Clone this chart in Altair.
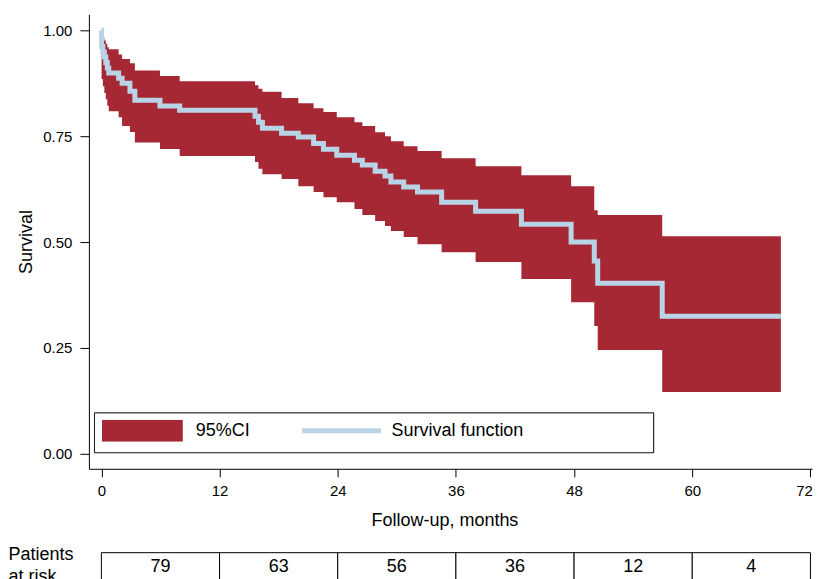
import altair as alt
import pandas as pd

# ---- data ----
time = [0, 0.02, 0.15, 0.3, 0.45, 0.6, 0.75, 1.75, 2.1, 2.9, 3.4, 5.95, 7.95,
        15.6, 15.95, 16.35, 18.3, 20.0, 21.55, 22.55, 23.9, 25.7, 26.5, 27.8,
        28.8, 29.4, 30.7, 32.1, 34.55, 38.0, 42.65, 47.7, 50.05, 50.4, 56.95, 69.0]
surv = [1, .962, .949, .937, .924, .911, .899, .887, .875, .856, .835, .821, .811,
        .797, .783, .769, .757, .748, .733, .719, .705, .693, .682, .667,
        .656, .642, .630, .618, .594, .573, .542, .500, .455, .403, .325, .325]
lower = [1, .885, .868, .852, .837, .822, .809, .795, .774, .760, .735, .720, .703,
         .689, .673, .660, .649, .632, .618, .606, .594, .578, .564, .550,
         .538, .526, .512, .495, .476, .453, .413, .358, .302, .245, .146, .146]
upper = [1, .988, .983, .976, .968, .960, .955, .943, .932, .922, .905, .892, .880,
         .870, .862, .855, .840, .828, .816, .807, .795, .783, .774, .759,
         .750, .738, .726, .715, .698, .679, .658, .632, .575, .564, .514, .514]

risk_start = [0, 12, 24, 36, 48, 60]
risk_end = [12, 24, 36, 48, 60, 72]
risk_mid = [6, 18, 30, 42, 54, 66]
at_risk = [79, 63, 56, 36, 12, 4]

x_ticks = [0, 12, 24, 36, 48, 60, 72]
y_ticks = [0, 0.25, 0.5, 0.75, 1.0]
ci_label = "95%CI"
surv_label = "Survival function"

RED = "#a52834"
BLUE = "#b9d4e7"
FONT = "Liberation Sans"

df = pd.DataFrame({"t": time, "s": surv, "lo": lower, "hi": upper})
df_ci = df.assign(series=ci_label, box="legend")
df_s = df.assign(series=surv_label)
tdf = pd.DataFrame({"start": risk_start, "end": risk_end, "mid": risk_mid,
                    "n": at_risk, "row": "risk"})

PW = 724  # plot width (px) -> page exactly fits the 821 px window
xscale = alt.Scale(domain=[-1.268, -1.268 + PW / 9.86], nice=False, zero=False)
yscale = alt.Scale(domain=[-0.0354, 1.0377], nice=False, zero=False)

xaxis = alt.Axis(values=x_ticks, title="Follow-up, months", grid=False,
                 tickSize=8, tickColor="black", domainColor="black",
                 labelFont=FONT, labelFontSize=15, labelColor="black",
                 labelPadding=7, labelFlush=5, labelFlushOffset=2,
                 labelOverlap=False,
                 titleFont=FONT, titleFontSize=18, titleFontWeight="normal",
                 titleColor="black", titlePadding=13, titleX=356)
yaxis = alt.Axis(values=y_ticks, format=".2f", title="Survival", grid=False,
                 tickSize=9, tickColor="black", domainColor="black",
                 labelFont=FONT, labelFontSize=15, labelColor="black",
                 labelPadding=8, labelOverlap=False,
                 titleFont=FONT, titleFontSize=18, titleFontWeight="normal",
                 titleColor="black", titlePadding=7)

# frame of the legend: a one-entry legend whose symbol is the outlined box
frame_legend = alt.Legend(
    title=None, orient="none", legendX=5, legendY=398, direction="horizontal",
    padding=0, symbolType="M-1,-0.0714H1V0.0714H-1Z", symbolSize=313600,
    clipHeight=42, symbolOffset=0, symbolFillColor="transparent",
    symbolStrokeColor="black", symbolStrokeWidth=1, symbolOpacity=1,
    labelExpr="''",
)
# legend entry for the CI band
ci_legend = alt.Legend(
    title=None, orient="none", legendX=13, legendY=406, direction="horizontal",
    padding=0, symbolType="M-1,-0.2716H1V0.2716H-1Z", symbolSize=6561,
    clipHeight=22, symbolOffset=0, symbolStrokeWidth=0, symbolOpacity=1,
    labelFont=FONT, labelFontSize=18, labelColor="black", labelOffset=13,
    labelLimit=800,
)
# legend entry for the survival line
s_legend = alt.Legend(
    title=None, orient="none", legendX=211, legendY=406, direction="horizontal",
    padding=0, symbolType="stroke", symbolSize=6241, clipHeight=22,
    symbolOffset=0, symbolStrokeWidth=5, symbolOpacity=1,
    labelFont=FONT, labelFontSize=18, labelColor="black", labelOffset=8,
    labelLimit=800,
)

area = alt.Chart(df_ci).mark_area(interpolate="step-after").encode(
    x=alt.X("t:Q", scale=xscale, axis=xaxis),
    y=alt.Y("lo:Q", scale=yscale, axis=yaxis, title="Survival"),
    y2="hi:Q",
    fill=alt.Fill("series:N", scale=alt.Scale(domain=[ci_label], range=[RED]),
                  legend=ci_legend),
    opacity=alt.Opacity("box:N", scale=alt.Scale(domain=["legend"], range=[1]),
                        legend=frame_legend),
)
line = alt.Chart(df_s).mark_line(interpolate="step-after", strokeWidth=5,
                                 strokeCap="butt").encode(
    x=alt.X("t:Q", scale=xscale, axis=xaxis),
    y=alt.Y("s:Q", scale=yscale, axis=yaxis, title="Survival"),
    stroke=alt.Stroke("series:N", scale=alt.Scale(domain=[surv_label], range=[BLUE]),
                      legend=s_legend),
)
main = alt.layer(area, line).resolve_scale(fill="independent", stroke="independent") \
    .properties(width=PW, height=455)

row_axis = alt.Axis(title=["Patients", "at risk"], labels=False, ticks=False,
                    domain=False, titleAngle=0, titleAlign="left",
                    titleBaseline="alphabetic", titleX=-81, titleY=7,
                    titleFont=FONT, titleFontSize=18, titleFontWeight="normal",
                    titleColor="black", titleLineHeight=22)
cells = alt.Chart(tdf).mark_rect(fill="white", stroke="black", strokeWidth=1).encode(
    x=alt.X("start:Q", scale=xscale, axis=None),
    x2="end:Q",
    y=alt.Y("row:N", axis=row_axis, scale=alt.Scale(paddingInner=0, paddingOuter=0)),
)
nums = alt.Chart(tdf).mark_text(font=FONT, fontSize=18, color="black").encode(
    x=alt.X("mid:Q", scale=xscale, axis=None),
    y=alt.Y("row:N", axis=row_axis, scale=alt.Scale(paddingInner=0, paddingOuter=0)),
    text="n:Q",
)
table = alt.layer(cells, nums).properties(width=PW, height=28)

chart = alt.vconcat(main, table, spacing=16).properties(
    padding={"left": 0, "top": 6, "right": 0, "bottom": 0},
    background="white",
).configure(font=FONT).configure_view(stroke=None)

chart.save("out.html", embed_options={"renderer": "svg", "actions": False})
